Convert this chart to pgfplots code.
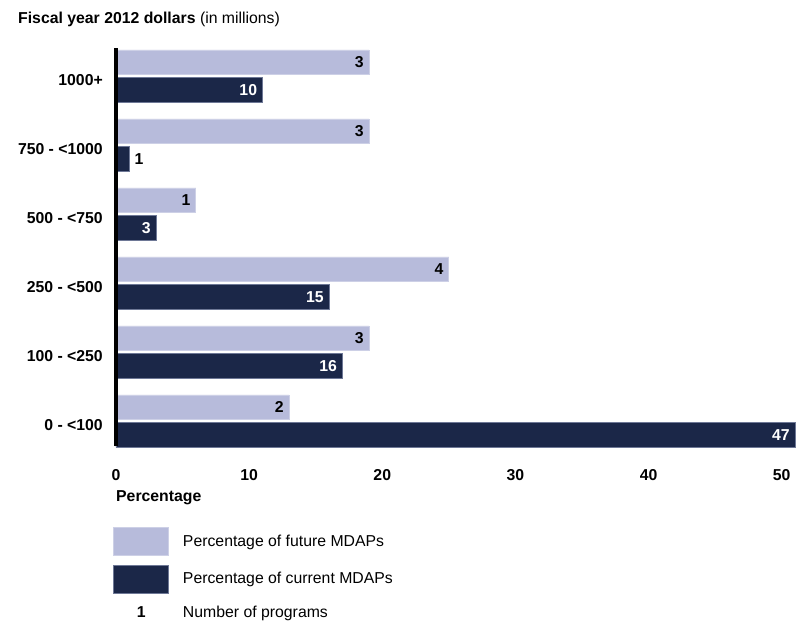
\documentclass[border=0pt]{standalone}
\usepackage{fontspec}
\setmainfont{Liberation Sans}
\usepackage{pgfplots}
\pgfplotsset{compat=1.18}
\definecolor{futurecol}{RGB}{183,187,219}
\definecolor{futureedge}{RGB}{205,208,230}
\definecolor{currentcol}{RGB}{27,39,72}
\definecolor{currentedge}{RGB}{110,120,150}

\begin{document}
\fontsize{15.8pt}{18pt}\selectfont
\begin{tikzpicture}
\begin{axis}[
  at={(0pt,0pt)}, anchor=south west,
  scale only axis, width=679pt, height=398pt,
  xmin=0, xmax=51, ymin=-0.359, ymax=5.409,
  xbar, bar width=24.5pt,
  axis on top,
  axis lines*=left,
  axis line style={-},
  x axis line style={draw=none},
  y axis line style={line width=4pt, black},
  major tick length=0pt,
  xtick={0,10,20,30,40,50},
  xticklabels={0,10,20,30,40,50},
  xticklabel style={font=\bfseries, inner sep=0pt, anchor=north, yshift=-23pt},
  ytick={0,1,2,3,4,5},
  yticklabels={0 - <100, 100 - <250, 250 - <500, 500 - <750, 750 - <1000, 1000+},
  yticklabel style={font=\bfseries, inner sep=0pt, anchor=east, xshift=-13pt, yshift=-4pt},
  nodes near coords,
  point meta=explicit symbolic,
  every node near coord/.append style={font=\bfseries, inner sep=0pt, anchor=east, xshift=-5pt},
  legend style={at={(0,0)}, anchor=north west, xshift=-3pt, yshift=-81pt,
    draw=none, fill=none, inner sep=0pt, row sep=9pt, column sep=14pt,
    nodes={inner sep=0pt, font=\normalfont}},
  legend cell align=left,
  clip=false,
]
\addplot[fill=futurecol, draw=futureedge, line width=0.8pt, bar shift=14pt, forget plot,
  every node near coord/.append style={text=black}]
  table[x=v, y=c, meta=n] {
c v n
0 13 2
1 19 3
2 25 4
3 6 1
4 19 3
5 19 3
};
\addplot[fill=currentcol, draw=currentedge, line width=0.8pt, bar shift=-13.8pt, forget plot,
  every node near coord/.append style={text=white}]
  table[x=v, y=c, meta=n] {
c v n
0 51 47
1 17 16
2 16 15
3 3 3
5 11 10
};
\addplot[fill=currentcol, draw=currentedge, line width=0.8pt, bar shift=-13.8pt, forget plot,
  every node near coord/.append style={text=black, anchor=west, xshift=10pt}]
  table[x=v, y=c, meta=n] {
c v n
4 1 1
};
\addlegendimage{legend image code/.code={\fill[futurecol, draw=futureedge, line width=0.8pt] (0pt,-14pt) rectangle (55pt,14pt);}}
\addlegendentry{Percentage of future MDAPs}
\addlegendimage{legend image code/.code={\fill[currentcol, draw=currentedge, line width=0.8pt] (0pt,-14pt) rectangle (55pt,14pt);}}
\addlegendentry{Percentage of current MDAPs}
\addlegendimage{legend image code/.code={\path[draw=none, fill=none] (0pt,-10pt) rectangle (55pt,10pt); \node[font=\bfseries, inner sep=0pt, text=black] at (23pt,0pt) {1};}}
\addlegendentry{Number of programs}
\node[anchor=base west, inner sep=0pt, xshift=-98pt, yshift=24pt] at (rel axis cs:0,1) {\textbf{Fiscal year 2012 dollars} (in millions)};
\node[anchor=base west, inner sep=0pt, yshift=-55pt, font=\bfseries] at (rel axis cs:0,0) {Percentage};
\end{axis}
\pgfresetboundingbox
\path[use as bounding box] (-116pt,-175pt) rectangle (687pt,446pt);
\end{tikzpicture}
\end{document}
